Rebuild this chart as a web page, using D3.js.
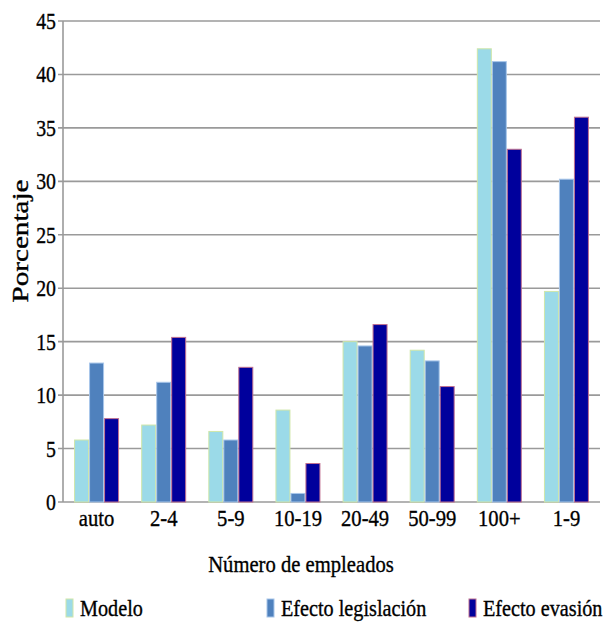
<!DOCTYPE html>
<html>
<head>
<meta charset="utf-8">
<script src="https://cdn.jsdelivr.net/npm/d3@7/dist/d3.min.js"></script>
<style>
  html, body { margin: 0; padding: 0; background: #fff; }
  svg { display: block; }
</style>
</head>
<body>
<svg id="chart" width="608" height="625" font-family="'Liberation Serif', 'Times New Roman', Times, serif"></svg>
<script>
// Employment-size categories and the three series (percent)
const categories = ["auto", "2-4", "5-9", "10-19", "20-49", "50-99", "100+", "1-9"];
const modelo      = [5.8, 7.2, 6.6, 8.6, 15.0, 14.2, 42.4, 19.7];
const legislacion = [13.0, 11.2, 5.8, 0.8, 14.6, 13.2, 41.2, 30.2];
const evasion     = [7.8, 15.4, 12.6, 3.6, 16.6, 10.8, 33.0, 36.0];
const seriesNames = ["Modelo", "Efecto legislación", "Efecto evasión"];
const yTicks = [0, 5, 10, 15, 20, 25, 30, 35, 40, 45];

const seriesValues = [modelo, legislacion, evasion];
const fills   = ["#9bdae8", "#4f81bd", "#00009c"];
const strokes = ["#cfe6a8", "#a8c6ea", "#c07090"];
const serif = "Liberation Serif";

const svg = d3.select("#chart");
const plot = { left: 63, right: 600, top: 21, bottom: 502 };
const squish = 0.86; // narrow serif look for all labels

const x = d3.scaleBand()
  .domain(categories)
  .range([plot.left, plot.right])
  .paddingInner(0.33)
  .paddingOuter(0.165);

const xs = d3.scaleBand()
  .domain(seriesNames)
  .range([0, x.bandwidth()])
  .padding(0);

const y = d3.scaleLinear()
  .domain([0, 45])
  .range([plot.bottom, plot.top]);

// Horizontal gridlines
svg.append("g")
  .selectAll("line")
  .data(yTicks)
  .join("line")
  .attr("x1", plot.left - 5)
  .attr("x2", plot.right)
  .attr("y1", d => y(d))
  .attr("y2", d => y(d))
  .attr("stroke", "#9a9a9a")
  .attr("stroke-width", 1.6);

// Left axis line
svg.append("line")
  .attr("x1", plot.left).attr("x2", plot.left)
  .attr("y1", plot.top).attr("y2", plot.bottom)
  .attr("stroke", "#9a9a9a").attr("stroke-width", 1.6);

// Helper for horizontally condensed text
function label(parent, tx, ty, str, size, anchor) {
  return parent.append("text")
    .attr("transform", `translate(${tx},${ty}) scale(${squish},1)`)
    .attr("text-anchor", anchor)
    .attr("font-family", serif)
    .attr("font-size", size)
    .attr("fill", "#000")
    .attr("stroke", "#000")
    .attr("stroke-width", 0.35)
    .text(str);
}

// Y tick labels
const yLab = svg.append("g");
yTicks.forEach(t => label(yLab, 56, y(t) + 8, String(t), 23, "end"));

// Bars
const groups = svg.append("g")
  .selectAll("g")
  .data(categories)
  .join("g")
  .attr("transform", d => `translate(${x(d)},0)`);

groups.selectAll("rect")
  .data((c, i) => seriesNames.map((s, k) => ({ s, k, v: seriesValues[k][i] })))
  .join("rect")
  .attr("x", d => xs(d.s) + 0.5)
  .attr("width", xs.bandwidth() - 1)
  .attr("y", d => y(d.v))
  .attr("height", d => y(0) - y(d.v))
  .attr("fill", d => fills[d.k])
  .attr("stroke", d => strokes[d.k])
  .attr("stroke-width", 1);

// Category labels
const xLab = svg.append("g");
categories.forEach(c => label(xLab, x(c) + x.bandwidth() / 2, 526, c, 24, "middle"));

// Axis titles
label(svg, 301, 572, "Número de empleados", 24, "middle");

svg.append("text")
  .attr("transform", "translate(28,241) rotate(-90)")
  .attr("text-anchor", "middle")
  .attr("font-family", serif)
  .attr("font-size", 24)
  .attr("fill", "#000")
  .attr("stroke", "#000")
  .attr("stroke-width", 0.35)
  .attr("textLength", 123)
  .attr("lengthAdjust", "spacingAndGlyphs")
  .text("Porcentaje");

// Legend
const legendX = [66, 267, 469];
const legend = svg.append("g");
seriesNames.forEach((s, k) => {
  legend.append("rect")
    .attr("x", legendX[k]).attr("y", 599)
    .attr("width", 7).attr("height", 18)
    .attr("fill", fills[k])
    .attr("stroke", strokes[k]).attr("stroke-width", 1);
  label(legend, legendX[k] + 14, 616, s, 23.5, "start");
});
</script>
</body>
</html>
